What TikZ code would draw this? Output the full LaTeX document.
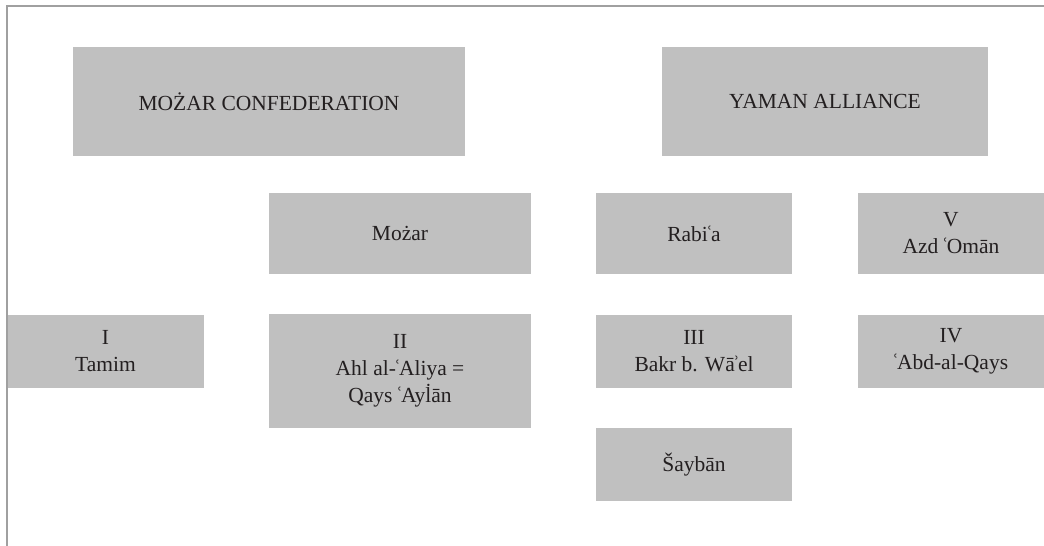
\documentclass[tikz,border=0pt]{standalone}
\usepackage{fontspec}
\setmainfont{Liberation Serif}
\definecolor{boxgray}{HTML}{C0C0C0}
\definecolor{framegray}{HTML}{A0A0A0}
\definecolor{textdark}{HTML}{231F20}
\newcommand\ayn{\kern-2pt ʿ\kern-2pt}
\newcommand\hmz{\kern-2pt ʾ\kern-2pt}
\newcommand\ldot{\accent"02D9 l}
\begin{document}
\begin{tikzpicture}[x=1pt,y=-1pt,
  box/.style={fill=boxgray, draw=none, inner sep=0pt, align=center,
    text=textdark, font=\fontsize{21.5}{27}\selectfont}]
\useasboundingbox (0,0) rectangle (1044,546);
\node[box, minimum width=392pt, minimum height=109pt] (mc) at (269,101.5) {MOŻAR CONFEDERATION};
\node[box, minimum width=326pt, minimum height=109pt] (ya) at (825,101.5) {YAMAN ALLIANCE};
\node[box, minimum width=262pt, minimum height=81pt] (mozar) at (400,233.5) {Możar};
\node[box, minimum width=196pt, minimum height=81pt] (rabia) at (694,233.5) {Rabi\ayn a};
\node[box, minimum width=186pt, minimum height=81pt] (azd) at (951,233.5) {V\\Azd \ayn Omān};
\node[box, minimum width=197pt, minimum height=73pt] (tamim) at (105.5,351.5) {I\\Tamim};
\node[box, minimum width=262pt, minimum height=114pt] (qays) at (400,371) {II\\Ahl al-\ayn Aliya =\\Qays \ayn Ay\ldot ān};
\node[box, minimum width=196pt, minimum height=73pt] (bakr) at (694,351.5) {III\\Bakr b. Wā\hmz el};
\node[box, minimum width=186pt, minimum height=73pt] (abd) at (951,351.5) {IV\\\ayn Abd-al-Qays};
\node[box, minimum width=196pt, minimum height=73pt] (sayban) at (694,464.5) {Šaybān};
\coordinate (fbl) at (7,546);
\coordinate (ftl) at (7,6);
\coordinate (ftr) at (1044,6);
\draw[framegray, line width=1.2pt] (fbl) -- (ftl) -- (ftr);
\end{tikzpicture}
\end{document}
